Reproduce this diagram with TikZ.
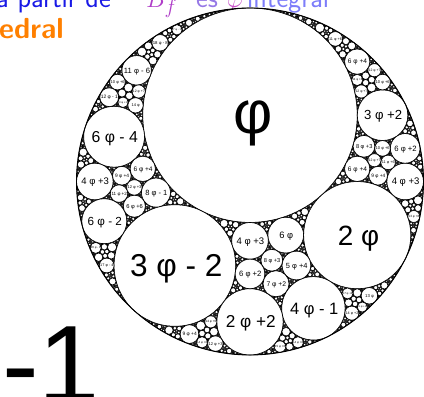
\documentclass[tikz,border=0pt]{standalone}
\usepackage{fontspec}
\newfontfamily\labfont{Liberation Sans}
\definecolor{topblue}{RGB}{25,25,230}
\definecolor{bpurple}{RGB}{175,60,200}
\definecolor{esblue}{RGB}{150,120,230}
\definecolor{phipink}{RGB}{200,80,200}
\definecolor{intblue}{RGB}{125,125,250}
\definecolor{edorange}{RGB}{255,128,0}

\newcommand\icofmt[2]{\ifnum#1=0 #2\else\ifnum#1=1 \else#1 \fi φ\ifnum#2>0 \ +#2\fi\ifnum#2<0 \ - \the\numexpr0-(#2)\relax\fi\fi}
\newcommand\icolab[5]{\node[anchor=base,inner sep=0pt,font={\labfont\fontsize{#3pt}{#3pt}\selectfont}] at (#1pt,#2pt) {\icofmt{#4}{#5}};}

\ExplSyntaxOn
\fp_const:Nn \c_ico_phi_fp { (1 + sqrt(5)) / 2 }
\fp_const:Nn \c_ico_R_fp { 173.5 }
\fp_const:Nn \c_ico_cx_fp { 250 }
\fp_const:Nn \c_ico_cy_fp { 215.5 }
\fp_const:Nn \c_ico_bmax_fp { 70 }
\fp_const:Nn \c_ico_blab_fp { 36 }
\fp_const:Nn \c_ico_rmin_fp { 0.5 }
\fp_const:Nn \c_ico_rstop_fp { 0.55 }
\int_const:Nn \c_ico_maxfills_int { 2200 }
\int_const:Nn \c_ico_maxdepth_int { 120 }
\clist_const:Nn \c_ico_fa_clist {0,0,0,0,0,1,2,3,4,5,6,7,8,9,10,11,11,11,11,11}
\clist_const:Nn \c_ico_fb_clist {1,2,3,4,5,2,3,4,5,1,7,8,9,10,6,6,7,8,9,10}
\clist_const:Nn \c_ico_fc_clist {2,3,4,5,1,6,7,8,9,10,2,3,4,5,1,7,8,9,10,6}
\clist_map_inline:nn { da, db, dx, dy, q, xa, ya, xb, yb, ra, rb, dd, aa, hh, ux, uy, px, py, qx, qy, bv, cxp, cyp, rp, fs, minb, sa, sb, sc, den, ccx, ccy, rr, pax, pay, pbx, pby, pcx, pcy }
  { \fp_new:c { g_ico_#1_fp } }
\int_new:N \g_ico_depth_int
\int_new:N \g_ico_fills_int
\tl_new:N \g_ico_pp_tl
\tl_new:N \g_ico_pn_tl

\cs_new_protected:Npn \ico_new_vec:n #1
  {
    \fp_new:c { g_ico_ \int_use:N \g_ico_depth_int _#1_a_fp }
    \fp_new:c { g_ico_ \int_use:N \g_ico_depth_int _#1_b_fp }
    \fp_new:c { g_ico_ \int_use:N \g_ico_depth_int _#1_x_fp }
    \fp_new:c { g_ico_ \int_use:N \g_ico_depth_int _#1_y_fp }
  }
\cs_new_protected:Npn \ico_ensure_depth:
  {
    \fp_if_exist:cF { g_ico_ \int_use:N \g_ico_depth_int _0_a_fp }
      { \int_step_function:nnN {0} {31} \ico_new_vec:n }
    \tl_if_exist:cF { g_ico_face_ \int_use:N \g_ico_depth_int _tl }
      { \tl_new:c { g_ico_face_ \int_use:N \g_ico_depth_int _tl } }
  }

\cs_new_protected:Npn \ico_set_circle:nnnn #1#2#3#4
  {
    \fp_gset:cn { g_ico_0_#1_b_fp } { #2 }
    \fp_gset:cn { g_ico_0_#1_x_fp } { (#2) * (#3) }
    \fp_gset:cn { g_ico_0_#1_y_fp } { (#2) * (#4) }
    \fp_gset:cn { g_ico_0_#1_a_fp } { (#2) * ( (#3)^2 + (#4)^2 ) - 1 / (#2) }
  }

\cs_new_protected:Npn \ico_tangent:nnnnnnn #1#2#3#4#5#6#7
  {
    \fp_gset:Nn \g_ico_xa_fp { \use:c{g_ico_0_#2_x_fp} / \use:c{g_ico_0_#2_b_fp} }
    \fp_gset:Nn \g_ico_ya_fp { \use:c{g_ico_0_#2_y_fp} / \use:c{g_ico_0_#2_b_fp} }
    \fp_gset:Nn \g_ico_xb_fp { \use:c{g_ico_0_#3_x_fp} / \use:c{g_ico_0_#3_b_fp} }
    \fp_gset:Nn \g_ico_yb_fp { \use:c{g_ico_0_#3_y_fp} / \use:c{g_ico_0_#3_b_fp} }
    \fp_gset:Nn \g_ico_ra_fp { 1 / \use:c{g_ico_0_#2_b_fp} + 1 / (#4) }
    \fp_gset:Nn \g_ico_rb_fp { 1 / \use:c{g_ico_0_#3_b_fp} + 1 / (#4) }
    \fp_gset:Nn \g_ico_dd_fp { sqrt( (\g_ico_xb_fp - \g_ico_xa_fp)^2 + (\g_ico_yb_fp - \g_ico_ya_fp)^2 ) }
    \fp_gset:Nn \g_ico_aa_fp { ( \g_ico_ra_fp^2 - \g_ico_rb_fp^2 + \g_ico_dd_fp^2 ) / ( 2 * \g_ico_dd_fp ) }
    \fp_gset:Nn \g_ico_hh_fp { sqrt( \g_ico_ra_fp^2 - \g_ico_aa_fp^2 ) }
    \fp_gset:Nn \g_ico_ux_fp { ( \g_ico_xb_fp - \g_ico_xa_fp ) / \g_ico_dd_fp }
    \fp_gset:Nn \g_ico_uy_fp { ( \g_ico_yb_fp - \g_ico_ya_fp ) / \g_ico_dd_fp }
    \fp_gset:Nn \g_ico_px_fp { \g_ico_xa_fp + \g_ico_aa_fp * \g_ico_ux_fp - \g_ico_hh_fp * \g_ico_uy_fp }
    \fp_gset:Nn \g_ico_py_fp { \g_ico_ya_fp + \g_ico_aa_fp * \g_ico_uy_fp + \g_ico_hh_fp * \g_ico_ux_fp }
    \fp_gset:Nn \g_ico_qx_fp { \g_ico_xa_fp + \g_ico_aa_fp * \g_ico_ux_fp + \g_ico_hh_fp * \g_ico_uy_fp }
    \fp_gset:Nn \g_ico_qy_fp { \g_ico_ya_fp + \g_ico_aa_fp * \g_ico_uy_fp - \g_ico_hh_fp * \g_ico_ux_fp }
    \fp_compare:nNnTF
      { (#7) * ( (\g_ico_px_fp - (#5))^2 + (\g_ico_py_fp - (#6))^2 - (\g_ico_qx_fp - (#5))^2 - (\g_ico_qy_fp - (#6))^2 ) } < { 0 }
      { \ico_set_circle:nnnn {#1} {#4} { \g_ico_px_fp } { \g_ico_py_fp } }
      { \ico_set_circle:nnnn {#1} {#4} { \g_ico_qx_fp } { \g_ico_qy_fp } }
  }

\cs_new_protected:Npn \ico_tp:nnNN #1#2#3#4
  {
    \fp_gset:Nn #3 { ( \use:c{g_ico_0_#1_x_fp} + \use:c{g_ico_0_#2_x_fp} ) / ( \use:c{g_ico_0_#1_b_fp} + \use:c{g_ico_0_#2_b_fp} ) }
    \fp_gset:Nn #4 { ( \use:c{g_ico_0_#1_y_fp} + \use:c{g_ico_0_#2_y_fp} ) / ( \use:c{g_ico_0_#1_b_fp} + \use:c{g_ico_0_#2_b_fp} ) }
  }

\cs_new_protected:Npn \ico_dual:nnnn #1#2#3#4
  {
    \ico_tp:nnNN {#2} {#3} \g_ico_pax_fp \g_ico_pay_fp
    \ico_tp:nnNN {#3} {#4} \g_ico_pbx_fp \g_ico_pby_fp
    \ico_tp:nnNN {#2} {#4} \g_ico_pcx_fp \g_ico_pcy_fp
    \fp_gset:Nn \g_ico_sa_fp { \g_ico_pax_fp^2 + \g_ico_pay_fp^2 }
    \fp_gset:Nn \g_ico_sb_fp { \g_ico_pbx_fp^2 + \g_ico_pby_fp^2 }
    \fp_gset:Nn \g_ico_sc_fp { \g_ico_pcx_fp^2 + \g_ico_pcy_fp^2 }
    \fp_gset:Nn \g_ico_den_fp { 2 * ( \g_ico_pax_fp * ( \g_ico_pby_fp - \g_ico_pcy_fp ) + \g_ico_pbx_fp * ( \g_ico_pcy_fp - \g_ico_pay_fp ) + \g_ico_pcx_fp * ( \g_ico_pay_fp - \g_ico_pby_fp ) ) }
    \fp_gset:Nn \g_ico_ccx_fp { ( \g_ico_sa_fp * ( \g_ico_pby_fp - \g_ico_pcy_fp ) + \g_ico_sb_fp * ( \g_ico_pcy_fp - \g_ico_pay_fp ) + \g_ico_sc_fp * ( \g_ico_pay_fp - \g_ico_pby_fp ) ) / \g_ico_den_fp }
    \fp_gset:Nn \g_ico_ccy_fp { ( \g_ico_sa_fp * ( \g_ico_pcx_fp - \g_ico_pbx_fp ) + \g_ico_sb_fp * ( \g_ico_pax_fp - \g_ico_pcx_fp ) + \g_ico_sc_fp * ( \g_ico_pbx_fp - \g_ico_pax_fp ) ) / \g_ico_den_fp }
    \fp_gset:Nn \g_ico_rr_fp { sqrt( ( \g_ico_pax_fp - \g_ico_ccx_fp )^2 + ( \g_ico_pay_fp - \g_ico_ccy_fp )^2 ) }
    \ico_set_circle:nnnn {#1} { 1 / \g_ico_rr_fp } { \g_ico_ccx_fp } { \g_ico_ccy_fp }
  }

\cs_new_protected:Npn \ico_dual_face:n #1
  {
    \ico_dual:nnnn { \int_eval:n { #1 + 12 } }
      { \clist_item:Nn \c_ico_fa_clist { #1 + 1 } }
      { \clist_item:Nn \c_ico_fb_clist { #1 + 1 } }
      { \clist_item:Nn \c_ico_fc_clist { #1 + 1 } }
  }

\cs_new_protected:Npn \ico_setup:
  {
    \int_gzero:N \g_ico_depth_int
    \ico_ensure_depth:
    \ico_set_circle:nnnn {0} {-1} {0} {0}
    \ico_set_circle:nnnn {1} { \c_ico_phi_fp } {0} { 2 - \c_ico_phi_fp }
    \ico_set_circle:nnnn {2} { 2 * \c_ico_phi_fp }
      { ( 1 - 1 / ( 2 * \c_ico_phi_fp ) ) * 2 / sqrt(5) }
      { - ( 1 - 1 / ( 2 * \c_ico_phi_fp ) ) / sqrt(5) }
    \ico_set_circle:nnnn {3} { 4 * \c_ico_phi_fp - 1 }
      { ( 1 - 1 / ( 4 * \c_ico_phi_fp - 1 ) ) / sqrt(5) }
      { - ( 1 - 1 / ( 4 * \c_ico_phi_fp - 1 ) ) * 2 / sqrt(5) }
    \ico_set_circle:nnnn {4} { 2 * \c_ico_phi_fp + 2 } {0}
      { - ( 1 - 1 / ( 2 * \c_ico_phi_fp + 2 ) ) }
    \ico_set_circle:nnnn {5} { 3 * \c_ico_phi_fp - 2 }
      { - ( 1 - 1 / ( 3 * \c_ico_phi_fp - 2 ) ) * 2 / 3 }
      { - ( 1 - 1 / ( 3 * \c_ico_phi_fp - 2 ) ) * sqrt(5) / 3 }
    \ico_tangent:nnnnnnn {6} {1} {2} { 6 * \c_ico_phi_fp } {0} {0} {1}
    \ico_tangent:nnnnnnn {7} {2} {3} { 5 * \c_ico_phi_fp + 4 } {0} {0} {1}
    \ico_tangent:nnnnnnn {8} {3} {4} { 7 * \c_ico_phi_fp + 2 } {0} {0} {1}
    \ico_tangent:nnnnnnn {9} {4} {5} { 6 * \c_ico_phi_fp + 2 } {0} {0} {1}
    \ico_tangent:nnnnnnn {10} {5} {1} { 4 * \c_ico_phi_fp + 3 } {0} {0} {1}
    \ico_tangent:nnnnnnn {11} {6} {7} { 8 * \c_ico_phi_fp + 3 }
      { \use:c{g_ico_0_2_x_fp} / \use:c{g_ico_0_2_b_fp} }
      { \use:c{g_ico_0_2_y_fp} / \use:c{g_ico_0_2_b_fp} } {-1}
    \int_step_function:nnN {0} {19} \ico_dual_face:n
  }

\cs_new_protected:Npn \ico_reflect:n #1
  {
    \fp_gset:Nn \g_ico_q_fp
      { 2 * ( \use:c{g_ico_ \g_ico_pp_tl _#1_x_fp} * \g_ico_dx_fp + \use:c{g_ico_ \g_ico_pp_tl _#1_y_fp} * \g_ico_dy_fp
        - ( \use:c{g_ico_ \g_ico_pp_tl _#1_a_fp} * \g_ico_db_fp + \use:c{g_ico_ \g_ico_pp_tl _#1_b_fp} * \g_ico_da_fp ) / 2 ) }
    \fp_gset:cn { g_ico_ \g_ico_pn_tl _#1_a_fp } { \use:c{g_ico_ \g_ico_pp_tl _#1_a_fp} - \g_ico_q_fp * \g_ico_da_fp }
    \fp_gset:cn { g_ico_ \g_ico_pn_tl _#1_b_fp } { \use:c{g_ico_ \g_ico_pp_tl _#1_b_fp} - \g_ico_q_fp * \g_ico_db_fp }
    \fp_gset:cn { g_ico_ \g_ico_pn_tl _#1_x_fp } { \use:c{g_ico_ \g_ico_pp_tl _#1_x_fp} - \g_ico_q_fp * \g_ico_dx_fp }
    \fp_gset:cn { g_ico_ \g_ico_pn_tl _#1_y_fp } { \use:c{g_ico_ \g_ico_pp_tl _#1_y_fp} - \g_ico_q_fp * \g_ico_dy_fp }
  }

\cs_new_protected:Npn \ico_label:n #1
  {
    \fp_compare:nNnTF
      { abs( \g_ico_bv_fp - #1 * \c_ico_phi_fp - round( \g_ico_bv_fp - #1 * \c_ico_phi_fp ) ) } < { 0.0001 }
      {
        \fp_gset:Nn \g_ico_fs_fp { ( \g_ico_bv_fp < 2 ? 0.565 : 0.52 ) * \g_ico_rp_fp }
        \use:x
          {
            \exp_not:N \icolab
              { \fp_eval:n { round( \g_ico_cxp_fp + 0.045 * \g_ico_fs_fp , 3 ) } }
              { \fp_eval:n { round( \g_ico_cyp_fp - ( \g_ico_bv_fp < 2 ? 0.30 : 0.355 ) * \g_ico_fs_fp , 3 ) } }
              { \fp_eval:n { round( \g_ico_fs_fp , 3 ) } }
              { #1 }
              { \fp_eval:n { round( \g_ico_bv_fp - #1 * \c_ico_phi_fp ) } }
          }
      }
      {
        \int_compare:nNnT {#1} < {60}
          { \exp_args:Nf \ico_label:n { \int_eval:n { #1 + 1 } } }
      }
  }

\cs_new_protected:Npn \ico_draw:n #1
  {
    \group_begin:
    \fp_gset:Nn \g_ico_bv_fp { abs( \use:c{g_ico_ \int_use:N \g_ico_depth_int _#1_b_fp} ) }
    \fp_gset:Nn \g_ico_minb_fp { min( \g_ico_minb_fp , \g_ico_bv_fp ) }
    \fp_gset:Nn \g_ico_rp_fp { \c_ico_R_fp / \g_ico_bv_fp }
    \fp_compare:nNnF { \g_ico_rp_fp } < { \c_ico_rmin_fp }
      {
        \fp_gset:Nn \g_ico_cxp_fp { \c_ico_cx_fp + \c_ico_R_fp * \use:c{g_ico_ \int_use:N \g_ico_depth_int _#1_x_fp} / \use:c{g_ico_ \int_use:N \g_ico_depth_int _#1_b_fp} }
        \fp_gset:Nn \g_ico_cyp_fp { \c_ico_cy_fp + \c_ico_R_fp * \use:c{g_ico_ \int_use:N \g_ico_depth_int _#1_y_fp} / \use:c{g_ico_ \int_use:N \g_ico_depth_int _#1_b_fp} }
        \fp_compare:nNnTF { \g_ico_rp_fp } < { 2 }
          { \pgfsetlinewidth{0.35pt} }
          { \pgfsetlinewidth{0.65pt} }
        \use:x
          {
            \exp_not:N \pgfpathcircle
              { \exp_not:N \pgfqpoint { \fp_to_dim:N \g_ico_cxp_fp } { \fp_to_dim:N \g_ico_cyp_fp } }
              { \fp_to_dim:N \g_ico_rp_fp }
          }
        \pgfusepath{fill,stroke}
        \fp_compare:nNnT { \g_ico_bv_fp } < { \c_ico_blab_fp } { \ico_label:n {0} }
      }
    \group_end:
  }

\cs_new:Npn \ico_curface: { \tl_use:c { g_ico_face_ \int_use:N \g_ico_depth_int _tl } }

\cs_new_protected:Npn \ico_draw_if:n #1
  {
    \bool_if:nF
      {
        \int_compare_p:nNn {#1} = { \clist_item:Nn \c_ico_fa_clist { \ico_curface: + 1 } } ||
        \int_compare_p:nNn {#1} = { \clist_item:Nn \c_ico_fb_clist { \ico_curface: + 1 } } ||
        \int_compare_p:nNn {#1} = { \clist_item:Nn \c_ico_fc_clist { \ico_curface: + 1 } }
      }
      { \ico_draw:n {#1} }
  }

\cs_new_protected:Npn \ico_child:n #1
  {
    \int_compare:nNnF {#1} = { \ico_curface: }
      {
        \fp_compare:nNnT { abs( \use:c{ g_ico_ \int_use:N \g_ico_depth_int _ \int_eval:n { #1 + 12 } _b_fp } ) } < { \c_ico_bmax_fp }
          { \ico_fill:n {#1} }
      }
  }

\cs_new_protected:Npn \ico_fill:n #1
  {
    \int_compare:nNnT { \g_ico_fills_int } < { \c_ico_maxfills_int }
      {
        \int_gincr:N \g_ico_fills_int
        \fp_gset:Nn \g_ico_da_fp { \use:c{ g_ico_ \int_use:N \g_ico_depth_int _ \int_eval:n { #1 + 12 } _a_fp } }
        \fp_gset:Nn \g_ico_db_fp { \use:c{ g_ico_ \int_use:N \g_ico_depth_int _ \int_eval:n { #1 + 12 } _b_fp } }
        \fp_gset:Nn \g_ico_dx_fp { \use:c{ g_ico_ \int_use:N \g_ico_depth_int _ \int_eval:n { #1 + 12 } _x_fp } }
        \fp_gset:Nn \g_ico_dy_fp { \use:c{ g_ico_ \int_use:N \g_ico_depth_int _ \int_eval:n { #1 + 12 } _y_fp } }
        \tl_gset:Nx \g_ico_pp_tl { \int_use:N \g_ico_depth_int }
        \int_gincr:N \g_ico_depth_int
        \tl_gset:Nx \g_ico_pn_tl { \int_use:N \g_ico_depth_int }
        \ico_ensure_depth:
        \tl_gset:cn { g_ico_face_ \int_use:N \g_ico_depth_int _tl } {#1}
        \int_step_function:nnN {0} {31} \ico_reflect:n
        \fp_gset:Nn \g_ico_minb_fp { 1e9 }
        \int_step_function:nnN {0} {11} \ico_draw_if:n
        \bool_if:nT
          {
            \int_compare_p:nNn { \g_ico_depth_int } < { \c_ico_maxdepth_int } &&
            \fp_compare_p:nNn { \c_ico_R_fp / \g_ico_minb_fp } > { \c_ico_rstop_fp }
          }
          { \int_step_function:nnN {0} {19} \ico_child:n }
        \int_gdecr:N \g_ico_depth_int
      }
  }

\NewDocumentCommand \icorun {}
  {
    \ico_setup:
    \pgfsetlinewidth{0.65pt}
    \pgfsetfillcolor{white}
    \pgfsetstrokecolor{black}
    \fp_gset:Nn \g_ico_minb_fp { 1e9 }
    \int_step_function:nnN {1} {11} \ico_draw:n
    \int_step_function:nnN {0} {19} \ico_fill:n
  }
\ExplSyntaxOff

\begin{document}
\begin{tikzpicture}[x=1pt,y=1pt]
\useasboundingbox (0,0) rectangle (424,397);
\clip (0,0) rectangle (424,397);
\fill[white] (0,0) rectangle (424,397);
\begin{scope}[every node/.style={anchor=base west, inner sep=0pt, font=\sffamily\fontsize{28}{33}\selectfont}]
\node[text=topblue] (w1) at (-4,389.7) {a partir de};
\node[text=bpurple] (w2) at (146,389.7) {$B_f$};
\node[text=esblue] (w3) at (196,389.7) {es};
\node[text=phipink] (w4) at (227,389.7) {$\varphi$};
\node[text=intblue] (w5) at (247,389.7) {integral};
\node[text=edorange, font=\sffamily\bfseries\fontsize{29}{34}\selectfont] (w6) at (-1,358.7) {edral};
\end{scope}
\node[anchor=base west, inner sep=0pt, font=\labfont\fontsize{110}{110}\selectfont] (minusone) at (2,-6) {-1};
\fill[black] (250,215.5) circle (173.5);
\icorun
\draw[line width=0.9pt] (250,215.5) circle (173.5);
\end{tikzpicture}
\end{document}
